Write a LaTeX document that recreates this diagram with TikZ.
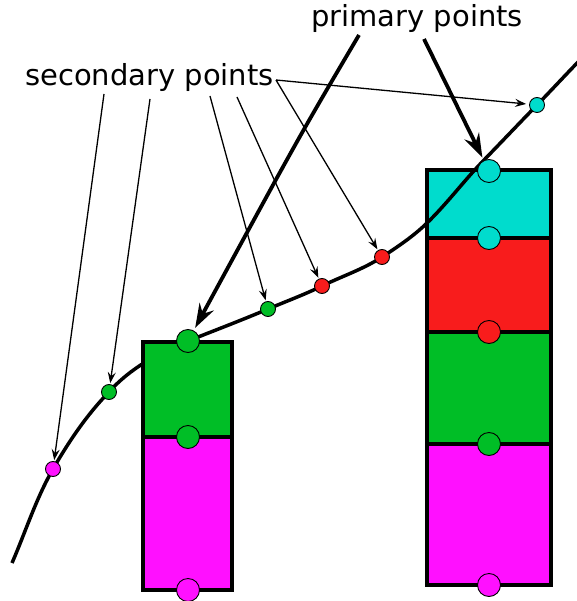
\documentclass[tikz,border=0pt]{standalone}
\usepackage{fontspec}
\setmainfont{DejaVu Sans}
\usetikzlibrary{arrows.meta}
\definecolor{cy}{HTML}{00DCCD}
\definecolor{rd}{HTML}{F81C1C}
\definecolor{gr}{HTML}{00BE26}
\definecolor{mg}{HTML}{FF10FF}
\tikzset{
  seg/.style={draw=black, line width=3.5pt, rectangle, inner sep=0pt, outer sep=0pt},
  bigdot/.style={draw=black, line width=0.9pt, circle, inner sep=0pt, minimum size=23pt},
  smalldot/.style={draw=black, line width=0.9pt, circle, inner sep=0pt, minimum size=15pt},
  curveline/.style={line width=3.5pt},
  thinarrow/.style={line width=1.3pt, -{Stealth[length=11pt, width=8pt, inset=4pt]}, shorten >=1pt},
  thickarrow/.style={line width=3.8pt, -{Stealth[length=24pt, width=16pt, inset=8pt]}},
  lbl/.style={font=\fontsize{29}{31}\selectfont, inner sep=0pt, anchor=base west}
}
\begin{document}
\begin{tikzpicture}[x=1pt,y=-1pt]
\useasboundingbox (0,0) rectangle (576,601);
% right box (drawn below the curve)
\node[seg, fill=cy, minimum width=124pt, minimum height=68pt] (R1) at (489,204) {};
\node[seg, fill=rd, minimum width=124pt, minimum height=94pt] (R2) at (489,285) {};
\node[seg, fill=gr, minimum width=124pt, minimum height=112pt] (R3) at (489,388) {};
\node[seg, fill=mg, minimum width=124pt, minimum height=141pt] (R4) at (489,514.5) {};
% curve
\draw[curveline] (12,563)
  .. controls (25.7,531.5) and (35.9,498.8) .. (53,469)
  .. controls (68.9,441.4) and (86.8,414.8) .. (109,392)
  .. controls (129.8,368.5) and (158.9,352.6) .. (188,341)
  .. controls (214.7,330.4) and (241.6,320.2) .. (268,309)
  .. controls (286.0,301.4) and (304.4,294.6) .. (322,286)
  .. controls (342.0,276.2) and (363.4,269.2) .. (382,257)
  .. controls (397.8,246.7) and (413.5,236.2) .. (427,223)
  .. controls (447.4,203.2) and (464.2,180.4) .. (484,160)
  .. controls (501.9,141.6) and (519.1,123.4) .. (537,105)
  .. controls (551.5,90.1) and (565.5,74.9) .. (580,60);
% left box (drawn over the curve)
\node[seg, fill=gr, minimum width=89pt, minimum height=95pt] (L1) at (187.5,389.5) {};
\node[seg, fill=mg, minimum width=89pt, minimum height=153pt] (L2) at (187.5,513.5) {};
% primary points
\node[bigdot, fill=gr] (pL1) at (188,341) {};
\node[bigdot, fill=gr] (pL2) at (188,437) {};
\node[bigdot, fill=mg] (pL3) at (188,590) {};
\node[bigdot, fill=cy] (pR1) at (489,171) {};
\node[bigdot, fill=cy] (pR2) at (489,238) {};
\node[bigdot, fill=rd] (pR3) at (489,332) {};
\node[bigdot, fill=gr] (pR4) at (489,444) {};
\node[bigdot, fill=mg] (pR5) at (489,585) {};
% secondary points
\node[smalldot, fill=mg] (s1) at (53,469) {};
\node[smalldot, fill=gr] (s2) at (109,392) {};
\node[smalldot, fill=gr] (s3) at (268,309) {};
\node[smalldot, fill=rd] (s4) at (322,286) {};
\node[smalldot, fill=rd] (s5) at (382,257) {};
\node[smalldot, fill=cy] (s6) at (537,105) {};
% labels
\node[lbl] (prim) at (311,27) {primary points};
\node[lbl] (sec) at (25,86) {secondary points};
% arrow start points
\coordinate (a1) at (104,94);
\coordinate (a2) at (150,99);
\coordinate (a3) at (210,96);
\coordinate (a4) at (237,97);
\coordinate (a5) at (276,80);
\coordinate (b1) at (359,35);
\coordinate (b2) at (424,39);
% arrows
\draw[thinarrow] (a1) -- (s1);
\draw[thinarrow] (a2) -- (s2);
\draw[thinarrow] (a3) -- (s3);
\draw[thinarrow] (a4) -- (s4);
\draw[thinarrow] (a5) -- (s5);
\draw[thinarrow, shorten >=3pt] (a5) -- (s6);
\draw[thickarrow, shorten >=3pt] (b1) .. controls (300,135) .. (pL1);
\draw[thickarrow, shorten >=3pt] (b2) -- (pR1);
\end{tikzpicture}
\end{document}
